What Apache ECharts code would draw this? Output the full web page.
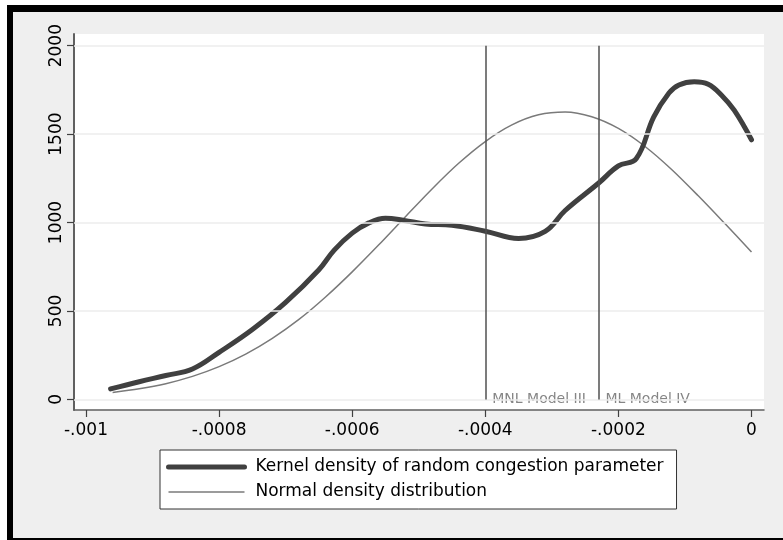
<!DOCTYPE html>
<html>
<head>
<meta charset="utf-8">
<script src="https://cdn.jsdelivr.net/npm/echarts@6/dist/echarts.min.js"></script>
<style>
  html, body { margin: 0; padding: 0; background: #ffffff; }
  #frame { position: absolute; left: 7px; top: 5px; width: 776px; height: 535px; background: #000; }
  #inner { position: absolute; left: 13px; top: 12px; width: 770px; height: 526px; background: #efefef; }
  #chart { position: absolute; left: 0; top: 0; width: 783px; height: 540px; }
</style>
</head>
<body>
<div id="frame"></div>
<div id="inner"></div>
<div id="chart"></div>
<script>
// ---- data ----
const kernelX = [-0.000963, -0.00092, -0.00088, -0.00084, -0.0008, -0.00075, -0.0007, -0.00065, -0.000627, -0.0006,
                 -0.000575, -0.00055, -0.000522, -0.00049, -0.00045, -0.0004, -0.00035, -0.00031, -0.00028, -0.00023,
                 -0.0002, -0.000173, -0.000147, -0.000124, -0.000109, -0.000086, -0.000065, -0.000045, -0.000026, 0];
const kernelY = [59, 100, 135, 172, 266, 395, 548, 733, 844, 940,
                 998, 1024, 1012, 992, 985, 951, 910, 950, 1068, 1222,
                 1320, 1362, 1596, 1732, 1778, 1796, 1782, 1720, 1635, 1468];

const normalX = [-0.00096, -0.00092, -0.00088, -0.00084, -0.0008, -0.00076, -0.00072, -0.00068, -0.00064, -0.0006,
                 -0.00056, -0.00052, -0.00048, -0.00044, -0.0004, -0.00036, -0.00032, -0.00028, -0.00024, -0.0002,
                 -0.00016, -0.00012, -0.00008, -0.00004, 0];
const normalY = [39, 60, 89, 130, 185, 256, 345, 452, 579, 721,
                 874, 1033, 1190, 1335, 1458, 1552, 1609, 1625, 1598, 1532,
                 1430, 1300, 1151, 994, 834];

const refLineX = [-0.0004, -0.00023];
const refLineLabels = ['MNL Model III', 'ML Model IV'];

const xTicks = [-0.001, -0.0008, -0.0006, -0.0004, -0.0002, 0];
const yTicks = [0, 500, 1000, 1500, 2000];

const seriesNames = ['Kernel density of random congestion parameter', 'Normal density distribution'];

// ---- chart ----
const FONT = 'DejaVu Sans';
const zip = (xs, ys) => xs.map((x, i) => [x, ys[i]]);
const fmtX = v => v === 0 ? '0' : String(v).replace('0.', '.');

const chart = echarts.init(document.getElementById('chart'), null, { renderer: 'canvas' });
chart.setOption({
  animation: false,
  backgroundColor: 'transparent',
  grid: { left: 74, right: 19, top: 34, bottom: 130, show: true, backgroundColor: '#ffffff', borderWidth: 0 },
  xAxis: {
    type: 'value', min: -0.001018, max: 0.0000188,
    axisLine: { show: true, onZero: false, lineStyle: { color: '#606060', width: 1.5 } },
    axisTick: { show: true, length: 7, customValues: xTicks, lineStyle: { color: '#404040', width: 1.2 } },
    axisLabel: { customValues: xTicks, formatter: fmtX, color: '#000', fontFamily: FONT, fontSize: 17, margin: 12 },
    splitLine: { show: false }
  },
  yAxis: {
    type: 'value', min: -60, max: 2066,
    axisLine: { show: true, onZero: false, lineStyle: { color: '#606060', width: 2 } },
    axisTick: { show: true, length: 7, customValues: yTicks, lineStyle: { color: '#404040', width: 1.2 } },
    axisLabel: { customValues: yTicks, rotate: 90, formatter: v => String(v),
                 color: '#000', fontFamily: FONT, fontSize: 17, margin: 9 },
    splitLine: { show: false }
  },
  legend: {
    orient: 'vertical', left: 160, top: 450,
    data: [
      { name: seriesNames[0], itemStyle: { opacity: 0 }, lineStyle: { width: 5, color: '#404040' } },
      { name: seriesNames[1], itemStyle: { opacity: 0 }, lineStyle: { width: 1.5, color: '#7a7a7a' } }
    ],
    backgroundColor: '#ffffff', borderColor: '#333333', borderWidth: 1,
    padding: [7, 13, 7, 6],
    itemWidth: 76, itemHeight: 14, itemGap: 5,
    textStyle: { fontFamily: FONT, fontSize: 17, color: '#000', lineHeight: 20, padding: [0, 0, 0, 6] }
  },
  series: [
    {
      name: 'grid', type: 'line', data: [], silent: true, z: 1,
      markLine: {
        silent: true, symbol: 'none', label: { show: false },
        lineStyle: { color: '#ececec', width: 1.5, type: 'solid' },
        data: yTicks.map(v => ({ yAxis: v }))
      }
    },
    {
      name: seriesNames[1], type: 'line', data: zip(normalX, normalY),
      showSymbol: false, symbol: 'none', smooth: 0.3, z: 3,
      lineStyle: { color: '#7a7a7a', width: 1.5 }, itemStyle: { color: '#7a7a7a' }
    },
    {
      name: seriesNames[0], type: 'line', data: zip(kernelX, kernelY),
      showSymbol: false, symbol: 'none', smooth: 0.4, z: 4,
      lineStyle: { color: '#404040', width: 5, cap: 'round', join: 'round' }, itemStyle: { color: '#404040' }
    },
    {
      name: 'refs', type: 'scatter', z: 2, silent: true,
      data: refLineX.map((x, i) => ({ value: [x, 0], name: refLineLabels[i] })),
      symbolSize: 0,
      label: { show: true, position: 'right', distance: 7, formatter: p => p.name,
               color: '#666666', fontFamily: FONT, fontSize: 14 },
      markLine: {
        silent: true, symbol: 'none', label: { show: false },
        lineStyle: { color: '#505050', width: 1.5, type: 'solid' },
        data: refLineX.map(x => [{ coord: [x, 0] }, { coord: [x, 2000] }])
      }
    }
  ]
});
</script>
</body>
</html>
